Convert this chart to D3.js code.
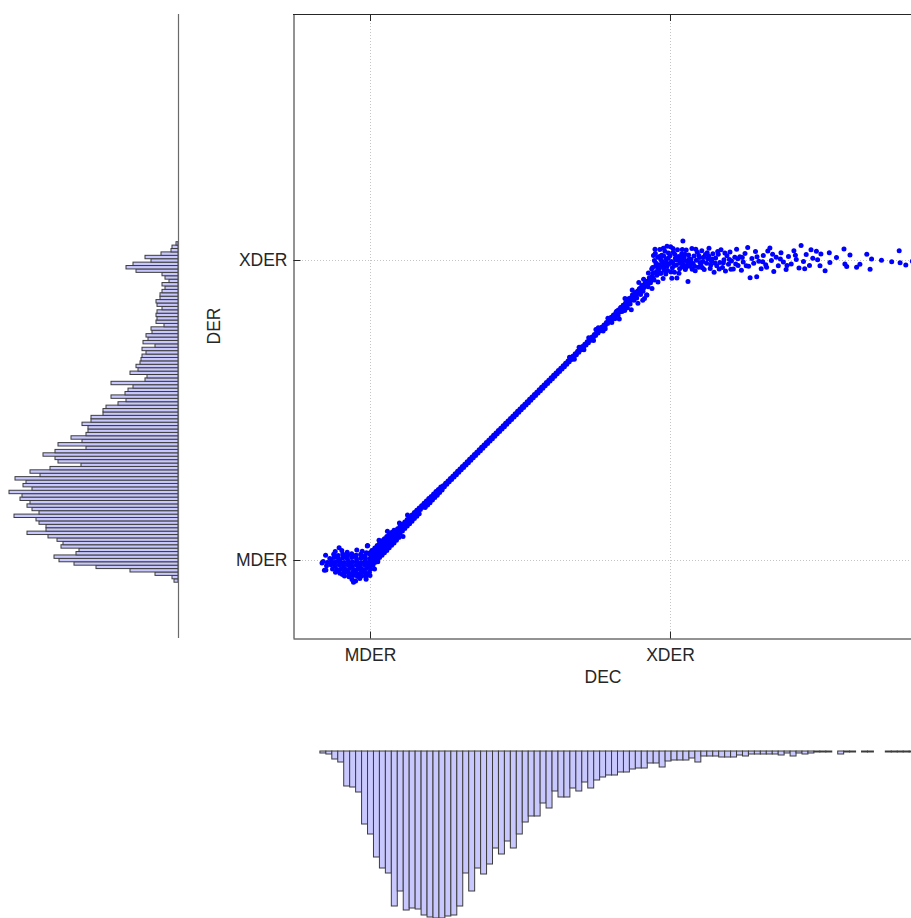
<!DOCTYPE html>
<html><head><meta charset="utf-8">
<script src="https://cdn.jsdelivr.net/npm/d3@7"></script>
<style>
body{margin:0;background:#fff}
svg{display:block}
text{font-family:"Liberation Sans",Arial,Helvetica,sans-serif}
</style>
</head><body>
<svg id="chart" width="911" height="918"></svg>
<script>
// ---------- data (units: MDER = 0, XDER = 100) ----------
const tickValues = [0, 100];
const tickLabels = ["MDER", "XDER"];
const xLabel = "DEC";
const yLabel = "DER";

// dense blob around (MDER, MDER)
const clusterPoints = [
[-10.3,4.1],[-0.8,4.8],
[-11.6,2.8],[-9.4,3.2],[-7.6,2.6],[-4.4,3.3],[-2.6,2.9],[-1.2,2.4],[0.6,3.1],
[-14.8,1.6],[-12.1,1.9],[-10.6,1.5],[-9.1,2],[-7.4,1.7],[-6.1,2.1],[-4.6,1.6],[-3.1,1.9],[-1.6,1.5],[0,1.9],[1.4,1.6],
[-13.4,0.5],[-12,0.8],[-10.5,0.4],[-9.1,0.7],[-7.6,0.5],[-6.1,0.8],[-4.5,0.4],[-3,0.7],[-1.5,0.5],[0.1,0.6],[1.3,0.8],[2.5,0.4],
[-15.6,-0.5],[-14.2,-0.8],[-12.8,-0.4],[-11.4,-0.7],[-10,-0.5],[-8.6,-0.8],[-7.2,-0.4],[-5.8,-0.7],[-4.4,-0.5],[-3,-0.8],[-1.6,-0.4],[-0.2,-0.7],[1.2,-0.5],[2.6,-0.6],
[-14.5,-1.9],[-13,-1.6],[-11.6,-2],[-10.2,-1.7],[-8.8,-1.9],[-7.4,-1.6],[-6,-2],[-4.6,-1.7],[-3.2,-1.9],[-1.8,-1.6],[-0.4,-2],[1,-1.7],
[-15.2,-3.4],[-12.5,-3],[-11,-3.2],[-9.6,-2.9],[-8.2,-3.1],[-6.8,-2.8],[-5.4,-3.2],[-4,-2.9],[-2.6,-3.1],[-1.2,-2.8],[0.2,-3],
[-11.5,-4.1],[-10,-4.4],[-8.6,-4],[-7.2,-4.3],[-5.8,-4.1],[-4.4,-4.4],[-3,-4],[-1.6,-4.3],[-0.2,-4.1],
[-8.5,-5.3],[-7,-5.6],[-5.6,-5.2],[-4.2,-5.5],[-2.8,-5.3],[-1.4,-5.6],[0,-5.2],
[-6,-6.5],[-4.8,-7],[-1.3,-6.4],[-5.5,-7.4],[-16,-1],[-14.7,-3.3],
[-11.2,1.1],[-8.3,1.2],[-5.3,1.3],[-2.3,1.1],[-12.6,-1.2],[-9.5,-1.1],[-6.6,-1.3],[-3.7,-1.2],[-0.9,-1.1],
[-10.4,-3.7],[-7.6,-3.6],[-4.8,-3.6],[-2,-3.7],[-9.2,-4.8],[-6.4,-4.9],[-3.6,-4.8],[-0.8,-4.9],[-3.4,-6.2]
];

// start of the diagonal (wide band)
const rampStartPoints = [
[0,2.4],[0.8,3.2],[1.6,4],[2.4,4.8],[3.2,5.6],[4,6.4],[4.8,7.1],[5.6,7.8],[6.4,8.5],[7.2,9.2],[8,9.9],
[0.4,1.6],[1.2,2.4],[2,3.2],[2.8,4],[3.6,4.8],[4.4,5.6],[5.2,6.4],[6,7.2],[6.8,8],[7.6,8.8],[8.4,9.6],
[9.2,10.4],[10,11.2],[10.8,11.9],[11.6,12.7],[12.4,13.5],[13.2,14.2],[14,15],[14.8,15.8],[15.6,16.6],[16.4,17.3],[17.2,18.1],
[0,0],[0.8,0.8],[1.6,1.6],[2.4,2.4],[3.2,3.2],[4,4],[4.8,4.8],[5.6,5.6],[6.4,6.4],[7.2,7.2],[8,8],[8.8,8.8],
[9.6,9.6],[10.4,10.4],[11.2,11.2],[12,12],[12.8,12.8],[13.6,13.6],[14.4,14.4],[15.2,15.2],[16,16],[16.8,16.8],[17.6,17.6],
[0.4,-0.8],[1.2,0],[2,0.8],[2.8,1.6],[3.6,2.4],[4.4,3.2],[5.2,4],[6,4.8],[6.8,5.6],[7.6,6.4],[8.4,7.2],
[9.2,8],[10,8.8],[10.8,9.7],[11.6,10.5],[12.4,11.3],[13.2,12.1],[14,12.9],[14.8,13.8],[15.6,14.6],[16.4,15.4],
[0,-2.4],[0.8,-1.6],[1.6,-0.8],[2.4,0],[3.2,0.8],[4,1.6],[4.8,2.4],[5.6,3.2],[6.4,4.1],[7.2,4.9],[8,5.7],[8.8,6.6],[9.6,7.5],
[-0.9,4.7],[3,6.6],[5.8,9.6],[1.5,-3],[9.8,12.3],[12.5,15],[11,7.8]
];

// middle of the diagonal (narrow band)
const rampMiddlePoints = [
[18,18.35],[18.8,19.15],[19.6,19.95],[20.4,20.75],[21.2,21.55],[22,22.35],[22.8,23.15],[23.6,23.95],[24.4,24.75],[25.2,25.55],
[26,26.35],[26.8,27.15],[27.6,27.95],[28.4,28.75],[29.2,29.55],[30,30.35],[30.8,31.15],[31.6,31.95],[32.4,32.75],[33.2,33.55],
[34,34.35],[34.8,35.15],[35.6,35.95],[36.4,36.75],[37.2,37.55],[38,38.35],[38.8,39.15],[39.6,39.95],[40.4,40.75],[41.2,41.55],
[42,42.35],[42.8,43.15],[43.6,43.95],[44.4,44.75],[45.2,45.55],[46,46.35],[46.8,47.15],[47.6,47.95],[48.4,48.75],[49.2,49.55],
[50,50.35],[50.8,51.15],[51.6,51.95],[52.4,52.75],[53.2,53.55],[54,54.35],[54.8,55.15],[55.6,55.95],[56.4,56.75],[57.2,57.55],
[58,58.35],[58.8,59.15],[59.6,59.95],[60.4,60.75],[61.2,61.55],[62,62.35],[62.8,63.15],[63.6,63.95],[64.4,64.75],[65.2,65.55],
[66,66.35],[66.8,67.15],[67.6,67.95],[68.4,68.75],[69.2,69.55],[70,70.35],[70.8,71.15],[71.6,71.95],[72.4,72.75],[73.2,73.55],
[74,74.35],[74.8,75.15],[75.6,75.95],[76.4,76.75],[77.2,77.55],[78,78.35],[78.8,79.15],[79.6,79.95],
[18.4,18.05],[19.2,18.85],[20,19.65],[20.8,20.45],[21.6,21.25],[22.4,22.05],[23.2,22.85],[24,23.65],[24.8,24.45],[25.6,25.25],
[26.4,26.05],[27.2,26.85],[28,27.65],[28.8,28.45],[29.6,29.25],[30.4,30.05],[31.2,30.85],[32,31.65],[32.8,32.45],[33.6,33.25],
[34.4,34.05],[35.2,34.85],[36,35.65],[36.8,36.45],[37.6,37.25],[38.4,38.05],[39.2,38.85],[40,39.65],[40.8,40.45],[41.6,41.25],
[42.4,42.05],[43.2,42.85],[44,43.65],[44.8,44.45],[45.6,45.25],[46.4,46.05],[47.2,46.85],[48,47.65],[48.8,48.45],[49.6,49.25],
[50.4,50.05],[51.2,50.85],[52,51.65],[52.8,52.45],[53.6,53.25],[54.4,54.05],[55.2,54.85],[56,55.65],[56.8,56.45],[57.6,57.25],
[58.4,58.05],[59.2,58.85],[60,59.65],[60.8,60.45],[61.6,61.25],[62.4,62.05],[63.2,62.85],[64,63.65],[64.8,64.45],[65.6,65.25],
[66.4,66.05],[67.2,66.85],[68,67.65],[68.8,68.45],[69.6,69.25],[70.4,70.05],[71.2,70.85],[72,71.65],[72.8,72.45],[73.6,73.25],
[74.4,74.05],[75.2,74.85],[76,75.65],[76.8,76.45],[77.6,77.25],[78.4,78.05],[79.2,78.85],[80,79.65],
[18,18.9],[18.8,19.7],[19.6,20.5],[20.4,21.2],[21.2,22],[22,22.8],[22.8,23.5],[23.6,24.3],
[18.4,17.5],[19.2,18.3],[20,19.1],[20.8,20],[21.6,20.8],[22.4,21.6],[23.2,22.5],[24,23.3],
[66.5,67.6],[68.1,66.9],[69.7,70.9],[71.3,70.1],[72.9,74.1],[74.5,73.2],[76.1,77.4],[77.7,76.3],[79.3,80.6],[75.3,76.8],[78.4,77.1]
];

// knee near (XDER, XDER)
const kneePoints = [
[80,80.5],[80.6,79.2],[81.2,81.6],[81.6,80.4],[82.2,82.9],[82.7,81.5],[83.1,80.3],[83.6,84.2],[84,82.8],[84.5,84.9],
[84.9,83.2],[85.4,85.9],[85.8,84.1],[86.2,87.1],[86.7,85.3],[87.1,83.4],[87.5,88.4],[88,86.6],[88.4,89.2],[88.9,87.3],
[89.3,85.6],[89.8,90.4],[90.2,88.5],[90.6,91.5],[91,89.6],[91.5,87.2],[91.9,92.8],[92.3,88.3],[92.7,91.1],[93.1,94.1],
[93.5,92.4],[94,90.5],[94.3,95.6],[94.7,93.3],[95.2,97.9],[95.6,94.9],[96,92.7],[96.4,97.1],[96.8,95.6],[97.3,99.6],
[97.7,93.8],[98.1,96.5],[98.6,95.3],[99,97.9],[89.6,92.5],[91.2,93.6],[92.8,95.7],[93.9,97],[87.4,90],[85,87.2],
[90.9,86.6],[92.2,88.3],[100.6,93.9],
[80.4,80.9],[81.2,81.7],[82,82.5],[82.8,83.3],[83.6,84.1],[84.4,84.9],[85.2,85.7],[86,86.5],[86.8,87.3],[87.6,88.1],
[88.4,88.9],[89.2,89.7],[90,90.5],[90.8,91.3],[91.6,92.1],[92.4,92.9],[93.2,93.7],[94,94.5],
[80.8,80.3],[81.6,81.1],[82.4,81.9],[83.2,82.7],[84,83.5],[84.8,84.3],[85.6,85.1],[86.4,85.9],[87.2,86.7],[88,87.5],
[88.8,88.3],[89.6,89.1],[90.4,89.9],[91.2,90.7],[92,91.5],[92.8,92.3],[93.6,93.1],[94.4,93.9]
];

// plateau at DER ~ XDER
const plateauPoints = [
[94.2,97.5],[94.8,99.8],[95.1,102.2],[95.5,96.2],[95.9,100.9],[96.3,98.4],[96.6,103.5],[97,95.6],[97.2,101.6],[97.6,99.1],
[98,97.2],[98.3,102.9],[98.7,100.3],[99,104.6],[99.2,96.5],[99.6,98.7],[100,101.4],[100.2,104.4],[100.5,99.5],[100.8,97.4],
[101.1,102.6],[101.5,95.9],[101.8,100.6],[102.1,98.3],[102.3,94],[102.5,103.4],[102.9,101.2],[103.2,97.1],[103.6,99.8],[103.9,102.1],
[104.3,106.3],[104.4,98.6],[104.7,100.9],[105.1,96.8],[105.4,103.3],[105.8,99.4],[106,92.8],[106.2,101.7],[106.6,97.9],[107,100.2],
[107.3,103.8],[107.7,98.8],[108,101.3],[108.4,96.4],[108.8,99.9],[109.1,102.6],[109.5,97.6],[109.9,100.8],[110.3,98.3],[110.6,103.1],
[111,99.5],[111.4,96.8],[111.8,101.8],[112.2,98.9],[112.6,100.4],[113,103.9],[113.4,97.2],[113.8,99.6],[114.3,102.1],[114.7,95.9],
[115.2,100.7],[115.6,98.1],[116.1,101.9],[116.6,99.2],[117,103.4],[117.5,97.5],[118,100.1],[118.5,96.3],[119,101.4],[119.5,98.6],
[120,102.7],[120.5,99.7],[121.1,97],[121.6,100.9],[122.2,103.6],[122.7,98.2],[123.3,101.1],[123.8,96.6],[124.4,99.3],[125,102.2],
[125.9,104.2],[126.2,97.9],[126.7,94.1],[127.3,100.5],[127.9,98.9],[128.5,102.8],[128.9,94.4],[129.6,99.6],[130.4,97.1],[131.1,101.5],
[131.9,98.4],[132.6,103],[133.3,104],[133.8,99.8],[134.6,96.2],[135.4,100.9],[136.1,98.1],[137,102.4],[137.8,99.3],[138.7,96.8],
[139.5,101.2],[140.4,98.7],[141.3,103.1],[142.1,100.2],[143,97.3],[143.7,104.8],[144.5,99.5],[145.4,101.8],[146.5,98.2],[147.6,100.6],
[148.8,102.9],[150,98.1],[150.3,102],[151.7,96.4],[153.1,102.4],[153.3,99.2],[155.5,100.8],[158,103.7],[158.3,98.7],[158.9,97.8],
[160,101.7],[162.2,97.6],[163.3,98.6],[165.6,101.9],[166.7,96.9],[167.2,100.3],[170.5,99.9],[173.9,99.4],[176.4,103.1],[176.7,99.1],
[178.6,98.3],[180.8,99.6],
[95.3,99],[96,97.6],[96.9,100.2],[97.9,101.3],[98.5,98.2],[99.4,100.6],[100.9,99.1],[101.6,101.9],[102.7,99.9],[103.5,100.8],
[104,97.7],[105,101.9],[105.6,98.1],[106.9,99.1],[108.2,97.9],[109.6,101.5],[111.2,100.9],[112.9,101.3],[114,100.3],[115.9,102.8],
[117.8,99.1],[119.8,100.2],[121.9,98.7],[124.1,100.8],
[94.5,101.5],[95,103.6],[95.8,95.3],[96.5,101.2],[97.4,97.8],[97.8,103.9],[98.8,99.2],[99.5,102.3],[100.3,96],[101,103.8],
[101.4,98.2],[102,100.1],[103,95.6],[103.3,98.9],[104.1,103.5],[104.9,99.9],[105.3,97.5],[106.4,100.3],[107.4,96.9],[108.6,103.6],
[110,99.2],[110.8,97.4],[112.4,102.4],[113.6,98.3],[115,99],[116.4,97],[118.3,102.3],[120.3,96.9],[122.6,100.4],[125.4,98.1],
[129,101.1],[130.9,99.4],[132.2,97.6],[134.2,101.9],[136.8,100.3],[139,98.2],[141.8,101.6],[144.9,97.1],[147,103.4],[149.2,100.1]
];

// marginal histogram of DEC (100 bins across decHistRange)
const decHistRange = [-16.7, 181.7];
const decHistCounts = [
2,3,8,11,35,36,41,73,83,106,
117,122,155,140,159,157,158,164,166,167,
167,165,164,155,122,140,117,123,113,97,
103,90,97,83,71,65,65,52,57,40,
46,46,37,40,31,37,29,26,24,24,
21,21,18,17,17,12,12,16,10,9,
9,9,7,11,5,5,5,6,6,6,
4,5,3,3,3,3,3,4,2,5,
2,3,2,1,1,1,0,3,1,1,
0,1,1,0,0,1,1,1,1,1
];

// marginal histogram of DER (100 bins across derHistRange), listed from the top bin down
const derHistRange = [-7.4, 106.1];
const derHistCountsTopDown = [
2,6,7,17,33,27,45,52,42,16,
13,9,16,13,16,18,18,22,21,16,
21,22,21,22,14,27,26,32,30,35,
23,36,32,36,37,38,42,40,48,31,
33,67,45,50,53,67,52,60,72,75,
75,87,87,96,90,90,92,107,96,120,
92,123,135,123,120,97,128,148,138,163,
152,155,146,169,156,158,148,151,146,139,
164,142,139,132,132,151,130,121,115,117,
99,102,124,119,104,82,48,23,6,4
];

// ---------- drawing ----------
const svg = d3.select("#chart");
const plot = {left: 293, right: 915, top: 14, bottom: 638};
const x = d3.scaleLinear().domain([-25.67, 181.67]).range([plot.left, plot.right]);
const y = d3.scaleLinear().domain([-26, 182]).range([plot.bottom, plot.top]);

const barFill = "#c8c8ff", barStroke = "#3c3c3c";
const countLen = d3.scaleLinear().domain([0, 170]).range([0, 170]);

// grid lines
const grid = svg.append("g").attr("stroke", "#c4c4c4").attr("stroke-width", 1).attr("stroke-dasharray", "1,2");
grid.selectAll("line.gx").data(tickValues).join("line").attr("class", "gx")
  .attr("x1", d => x(d) + 0.5).attr("x2", d => x(d) + 0.5).attr("y1", plot.top).attr("y2", plot.bottom);
grid.selectAll("line.gy").data(tickValues).join("line").attr("class", "gy")
  .attr("y1", d => y(d) + 0.5).attr("y2", d => y(d) + 0.5).attr("x1", plot.left).attr("x2", plot.right);

// scatter
const allPoints = [].concat(clusterPoints, rampStartPoints, rampMiddlePoints, kneePoints, plateauPoints);
svg.append("g").selectAll("circle").data(allPoints).join("circle")
  .attr("cx", d => x(d[0])).attr("cy", d => y(d[1])).attr("r", 2.5).attr("fill", "#0000ff");

// axes
const axisColor = "#262626";
const xAxis = svg.append("g").attr("transform", `translate(0,${plot.bottom + 0.5})`)
  .call(d3.axisBottom(x).tickValues(tickValues).tickFormat((d, i) => tickLabels[i])
        .tickSizeInner(-7).tickSizeOuter(0).tickPadding(10));
const yAxis = svg.append("g").attr("transform", `translate(${plot.left + 0.5},0)`)
  .call(d3.axisLeft(y).tickValues(tickValues).tickFormat((d, i) => tickLabels[i])
        .tickSizeInner(-7).tickSizeOuter(0).tickPadding(6));
[xAxis, yAxis].forEach(g => {
  g.select(".domain").attr("stroke", axisColor);
  g.selectAll(".tick line").attr("stroke", axisColor);
  g.selectAll(".tick text").attr("fill", axisColor).style("font-size", "17.5px")
    .style("font-family", '"Liberation Sans", Arial, sans-serif');
});
// box: top edge with mirrored ticks
svg.append("line").attr("x1", plot.left).attr("x2", plot.right).attr("y1", plot.top + 0.5).attr("y2", plot.top + 0.5)
  .attr("stroke", axisColor);
svg.append("g").selectAll("line").data(tickValues).join("line")
  .attr("x1", d => x(d) + 0.5).attr("x2", d => x(d) + 0.5).attr("y1", plot.top).attr("y2", plot.top + 7)
  .attr("stroke", axisColor);

// axis titles
svg.append("text").attr("x", 603).attr("y", 683).attr("text-anchor", "middle")
  .attr("fill", axisColor).style("font-size", "17.5px").text(xLabel);
svg.append("text").attr("transform", "translate(220,326) rotate(-90)").attr("text-anchor", "middle")
  .attr("fill", axisColor).style("font-size", "17.5px").text(yLabel);

// bottom marginal histogram (DEC)
const decN = decHistCounts.length;
const decW = (decHistRange[1] - decHistRange[0]) / decN;
const decBase = 751;
svg.append("g").selectAll("rect").data(decHistCounts.map((c, i) => ({c, i})).filter(d => d.c > 0)).join("rect")
  .attr("x", d => x(decHistRange[0] + d.i * decW))
  .attr("width", d => x(decHistRange[0] + (d.i + 1) * decW) - x(decHistRange[0] + d.i * decW))
  .attr("y", decBase).attr("height", d => countLen(d.c))
  .attr("fill", barFill).attr("stroke", barStroke).attr("stroke-width", 1);

// left marginal histogram (DER)
const derCounts = derHistCountsTopDown.slice().reverse();
const derN = derCounts.length;
const derW = (derHistRange[1] - derHistRange[0]) / derN;
const derBase = 178;
svg.append("g").selectAll("rect").data(derCounts.map((c, i) => ({c, i})).filter(d => d.c > 0)).join("rect")
  .attr("y", d => y(derHistRange[0] + (d.i + 1) * derW))
  .attr("height", d => y(derHistRange[0] + d.i * derW) - y(derHistRange[0] + (d.i + 1) * derW))
  .attr("x", d => derBase - countLen(d.c)).attr("width", d => countLen(d.c))
  .attr("fill", barFill).attr("stroke", barStroke).attr("stroke-width", 1);
svg.append("line").attr("x1", derBase + 0.5).attr("x2", derBase + 0.5).attr("y1", plot.top).attr("y2", plot.bottom)
  .attr("stroke", "#6a6a6a").attr("stroke-width", 1.2);
</script>
</body></html>
